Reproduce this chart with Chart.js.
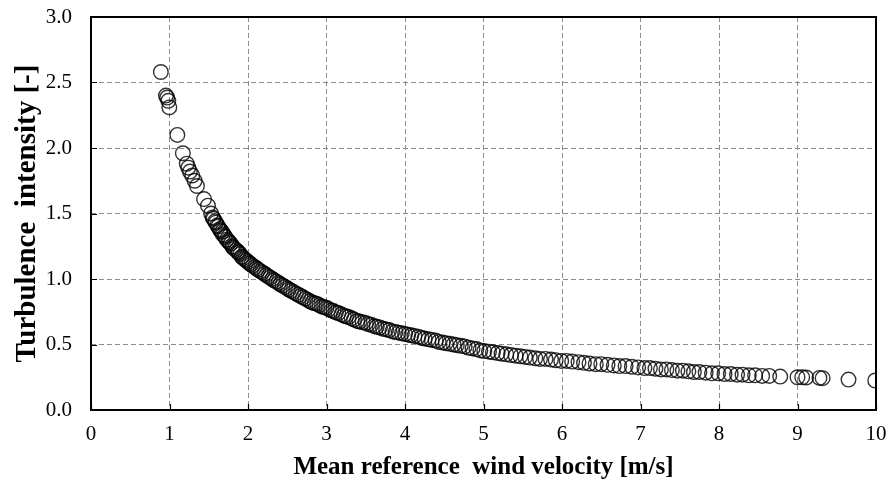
<!DOCTYPE html>
<html>
<head>
<meta charset="utf-8">
<script src="https://cdn.jsdelivr.net/npm/chart.js@4.4.1/dist/chart.umd.min.js"></script>
<style>
  html, body { margin: 0; padding: 0; background: #fff; }
  #wrap { width: 893px; height: 484px; position: relative; }
</style>
</head>
<body>
<div id="wrap"><canvas id="tiChart"></canvas></div>
<script>
// mean reference wind velocity [m/s]
const windSpeed = [
  0.89, 0.955, 0.97, 0.985, 0.998, 1.10, 1.17, 1.22, 1.24, 1.26, 1.29, 1.32, 1.35, 1.44, 1.49,
  1.53, 1.55, 1.56, 1.58, 1.59, 1.61, 1.62, 1.64, 1.65, 1.67, 1.68, 1.70, 1.71, 1.73, 1.75,
  1.76, 1.78, 1.80, 1.81, 1.83, 1.85, 1.87, 1.88, 1.90, 1.92, 1.94, 1.96, 1.98, 2.00, 2.02,
  2.04, 2.06, 2.09, 2.11, 2.13, 2.16, 2.18, 2.21, 2.23, 2.26, 2.28, 2.31, 2.33, 2.36, 2.39,
  2.41, 2.44, 2.47, 2.50, 2.52, 2.55, 2.58, 2.61, 2.64, 2.67, 2.70, 2.73, 2.76, 2.79, 2.82,
  2.85, 2.88, 2.91, 2.94, 2.97, 3.00, 3.03, 3.06, 3.09, 3.12, 3.15, 3.19, 3.22, 3.25, 3.28,
  3.32, 3.35, 3.39, 3.42, 3.46, 3.50, 3.53, 3.57, 3.61, 3.64, 3.68, 3.72, 3.76, 3.80, 3.84,
  3.88, 3.92, 3.96, 4.00, 4.04, 4.08, 4.12, 4.17, 4.21, 4.25, 4.30, 4.34, 4.39, 4.43, 4.48,
  4.52, 4.57, 4.62, 4.66, 4.71, 4.76, 4.81, 4.86, 4.91, 4.96, 5.01, 5.07, 5.12, 5.18, 5.23,
  5.29, 5.35, 5.41, 5.47, 5.53, 5.59, 5.66, 5.72, 5.79, 5.86, 5.92, 5.99, 6.06, 6.13, 6.21,
  6.28, 6.35, 6.43, 6.50, 6.58, 6.66, 6.73, 6.81, 6.89, 6.97, 7.05, 7.12, 7.19, 7.26, 7.33,
  7.40, 7.47, 7.54, 7.61, 7.68, 7.75, 7.83, 7.91, 7.99, 8.07, 8.15, 8.23, 8.30, 8.38, 8.46,
  8.55, 8.64, 8.78, 9.00, 9.06, 9.11, 9.28, 9.32, 9.65, 9.99
];
// turbulence intensity [-]
const turbIntensity = [
  2.58, 2.40, 2.385, 2.36, 2.31, 2.10, 1.96, 1.88, 1.85, 1.82, 1.79, 1.75, 1.71, 1.61, 1.56,
  1.50, 1.47, 1.46, 1.44, 1.43, 1.41, 1.40, 1.38, 1.37, 1.36, 1.34, 1.33, 1.32, 1.30, 1.29,
  1.28, 1.27, 1.25, 1.24, 1.23, 1.22, 1.21, 1.20, 1.19, 1.17, 1.16, 1.15, 1.14, 1.13, 1.12,
  1.11, 1.10, 1.09, 1.08, 1.07, 1.06, 1.05, 1.04, 1.03, 1.02, 1.01, 1.00, 0.99, 0.98, 0.97,
  0.96, 0.95, 0.94, 0.93, 0.92, 0.91, 0.90, 0.89, 0.88, 0.87, 0.86, 0.85, 0.84, 0.83, 0.82,
  0.815, 0.81, 0.80, 0.79, 0.785, 0.78, 0.77, 0.76, 0.755, 0.745, 0.74, 0.73, 0.72, 0.715, 0.71,
  0.70, 0.69, 0.68, 0.675, 0.67, 0.665, 0.655, 0.65, 0.64, 0.635, 0.63, 0.62, 0.615, 0.61, 0.60,
  0.595, 0.59, 0.585, 0.58, 0.575, 0.57, 0.565, 0.56, 0.55, 0.545, 0.54, 0.535, 0.53, 0.52, 0.515,
  0.51, 0.505, 0.50, 0.495, 0.49, 0.485, 0.475, 0.47, 0.465, 0.455, 0.45, 0.445, 0.44, 0.435, 0.43,
  0.425, 0.42, 0.415, 0.41, 0.405, 0.40, 0.395, 0.39, 0.39, 0.385, 0.38, 0.375, 0.375, 0.37, 0.365,
  0.36, 0.355, 0.35, 0.35, 0.345, 0.34, 0.335, 0.335, 0.33, 0.325, 0.32, 0.32, 0.315, 0.31, 0.31,
  0.305, 0.30, 0.30, 0.295, 0.29, 0.29, 0.285, 0.28, 0.28, 0.275, 0.275, 0.27, 0.27, 0.265, 0.265,
  0.26, 0.26, 0.255, 0.25, 0.25, 0.248, 0.245, 0.243, 0.232, 0.225
];
const xTickValues = [0, 1, 2, 3, 4, 5, 6, 7, 8, 9, 10];
const yTickValues = [0, 0.5, 1.0, 1.5, 2.0, 2.5, 3.0];

const points = windSpeed.map((v, i) => ({ x: v, y: turbIntensity[i] }));

// frame round the plot area plus the short inward tick marks
const frameAndTicks = {
  id: 'frameAndTicks',
  afterDraw(chart) {
    const { ctx, chartArea: a, scales } = chart;
    ctx.save();
    ctx.strokeStyle = '#000';
    ctx.lineWidth = 2;
    ctx.strokeRect(a.left, a.top, a.right - a.left, a.bottom - a.top);
    ctx.lineWidth = 1.2;
    ctx.beginPath();
    scales.x.ticks.forEach(t => {
      const px = Math.round(scales.x.getPixelForValue(t.value)) + 0.5;
      ctx.moveTo(px, a.bottom);
      ctx.lineTo(px, a.bottom - 6);
    });
    scales.y.ticks.forEach(t => {
      const py = Math.round(scales.y.getPixelForValue(t.value)) + 0.5;
      ctx.moveTo(a.left, py);
      ctx.lineTo(a.left + 6, py);
    });
    ctx.stroke();
    ctx.restore();
  }
};

const serif = 'Liberation Serif, Times New Roman, serif';

new Chart(document.getElementById('tiChart'), {
  type: 'scatter',
  data: {
    datasets: [{
      data: points,
      pointStyle: 'circle',
      pointRadius: 7.3,
      pointHoverRadius: 7.3,
      borderWidth: 1.4,
      borderColor: 'rgba(0,0,0,0.8)',
      backgroundColor: 'rgba(0,0,0,0)'
    }]
  },
  options: {
    responsive: true,
    maintainAspectRatio: false,
    animation: false,
    layout: { padding: { top: 17, right: 17, left: 0, bottom: 0 } },
    plugins: { legend: { display: false }, tooltip: { enabled: false } },
    scales: {
      x: {
        type: 'linear',
        min: 0, max: 10,
        afterBuildTicks: s => { s.ticks = xTickValues.map(v => ({ value: v })); },
        afterFit: s => { s.height = 74; s.paddingLeft = 0; s.paddingRight = 0; },
        grid: { color: '#8c8c8c', lineWidth: 1, drawTicks: false },
        border: { display: false, dash: [5, 3] },
        ticks: { color: '#000', padding: 12, font: { family: serif, size: 21 } },
        title: {
          display: true,
          text: 'Mean reference  wind velocity [m/s]',
          color: '#000',
          padding: { top: 1, bottom: 1 },
          font: { family: serif, size: 25, weight: 'bold' }
        }
      },
      y: {
        type: 'linear',
        min: 0, max: 3,
        afterBuildTicks: s => { s.ticks = yTickValues.map(v => ({ value: v })); },
        afterFit: s => { s.width = 91; s.paddingTop = 0; s.paddingBottom = 0; },
        grid: { color: '#8c8c8c', lineWidth: 1, drawTicks: false },
        border: { display: false, dash: [5, 3] },
        ticks: {
          color: '#000', padding: 19,
          font: { family: serif, size: 21 },
          callback: v => v.toFixed(1)
        },
        title: {
          display: true,
          text: 'Turbulence  intensity [-]',
          color: '#000',
          padding: { top: 10, bottom: 10 },
          font: { family: serif, size: 29, weight: 'bold' }
        }
      }
    }
  },
  plugins: [frameAndTicks]
});
</script>
</body>
</html>
